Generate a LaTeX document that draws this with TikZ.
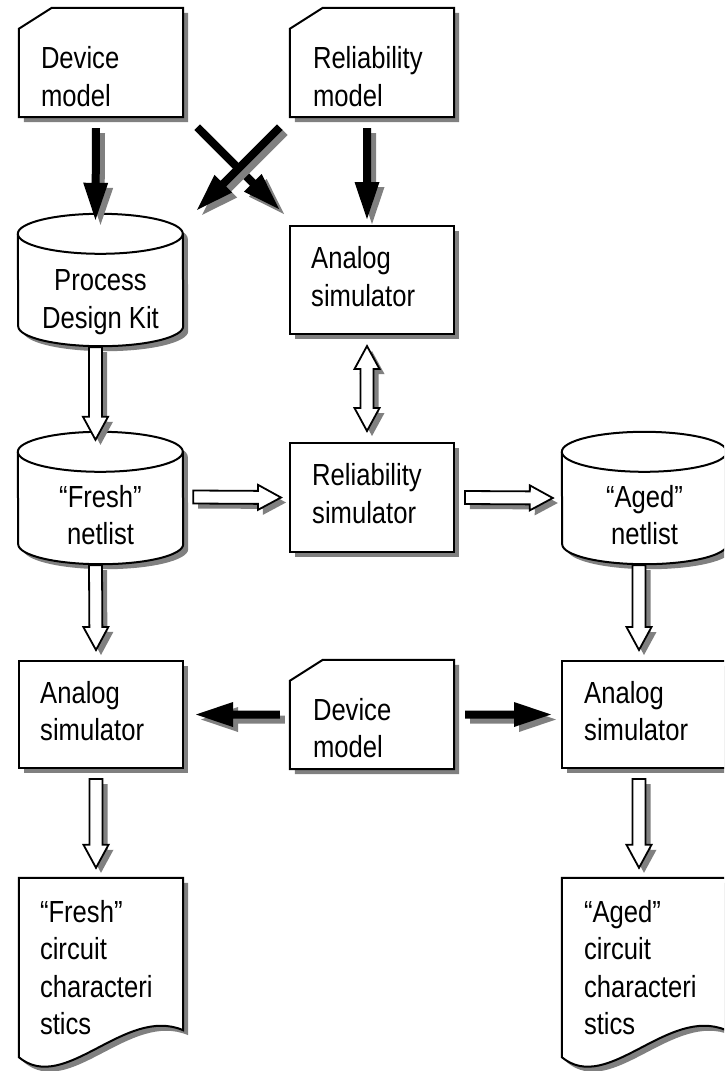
\documentclass[tikz,border=0pt]{standalone}
\usepackage{fontspec}
\setmainfont[FakeStretch=0.84]{Liberation Sans}
\usetikzlibrary{calc,shadows}
\definecolor{shadowgray}{RGB}{128,128,128}

\tikzset{
  shad/.style={drop shadow={shadow xshift=5pt,shadow yshift=-5pt,fill=shadowgray,opacity=1}},
  shapeline/.style={draw=black,line width=2pt,fill=white,shad},
  boxnode/.style={rectangle,minimum width=164pt,inner sep=0pt,shapeline},
  holder/.style={rectangle,inner sep=0pt,draw=none,fill=none},
  txt/.style={font=\fontsize{30.5}{37.5}\selectfont,inner sep=0pt,align=left},
  ctxt/.style={font=\fontsize{30.5}{37.5}\selectfont,inner sep=0pt,align=center},
  fatstyle/.style={fill=black,shad},
  hollowstyle/.style={fill=white,draw=black,line width=1.8pt,shad}
}

% card with cut top-left corner
\newcommand\cardshape[1]{%
  \path[shapeline] ($(#1.north west)+(33,0)$) -- (#1.north east) -- (#1.south east)
    -- (#1.south west) -- ($(#1.north west)+(0,21)$) -- cycle;}
% cylinder (database)
\newcommand\cylshape[1]{%
  \path[shapeline] ($(#1.north west)+(0,20)$)
    arc[start angle=180,end angle=0,x radius=82.5pt,y radius=20pt]
    -- ($(#1.south east)+(0,-20)$)
    arc[start angle=0,end angle=-180,x radius=82.5pt,y radius=20pt] -- cycle;
  \draw[line width=2pt] ($(#1.north west)+(0,20)$)
    arc[start angle=180,end angle=360,x radius=82.5pt,y radius=20pt];}
% document with wavy bottom
\newcommand\docshape[1]{%
  \path[shapeline] (#1.south west) -- (#1.north west) -- (#1.north east)
    -- ($(#1.south east)+(0,-27)$)
    .. controls ($(#1.south west)+(106,-52)$) and ($(#1.south west)+(46,38)$) .. (#1.south west)
    -- cycle;}
% solid black arrow: #1 start, #2 tip
\newcommand\fatarrow[2]{%
  \coordinate (fa-a) at (#1);
  \coordinate (fa-b) at (#2);
  \coordinate (fa-h) at ($(fa-b)!37pt!(fa-a)$);
  \fill[fatstyle] ($(fa-a)!4pt!90:(fa-b)$) -- ($(fa-h)!4pt!90:(fa-b)$)
    -- ($(fa-h)!12.5pt!90:(fa-b)$) -- (fa-b) -- ($(fa-h)!12.5pt!-90:(fa-b)$)
    -- ($(fa-h)!4pt!-90:(fa-b)$) -- ($(fa-a)!4pt!-90:(fa-b)$) -- cycle;}
% hollow arrow: #1 start, #2 tip
\newcommand\hollowarrow[2]{%
  \coordinate (ha-a) at (#1);
  \coordinate (ha-b) at (#2);
  \coordinate (ha-h) at ($(ha-b)!23pt!(ha-a)$);
  \path[hollowstyle] ($(ha-a)!6.5pt!90:(ha-b)$) -- ($(ha-h)!6.5pt!90:(ha-b)$)
    -- ($(ha-h)!12.5pt!90:(ha-b)$) -- (ha-b) -- ($(ha-h)!12.5pt!-90:(ha-b)$)
    -- ($(ha-h)!6.5pt!-90:(ha-b)$) -- ($(ha-a)!6.5pt!-90:(ha-b)$) -- cycle;}
% hollow double arrow: #1 tip, #2 tip
\newcommand\hollowdouble[2]{%
  \coordinate (hd-a) at (#1);
  \coordinate (hd-b) at (#2);
  \coordinate (hd-g) at ($(hd-a)!23pt!(hd-b)$);
  \coordinate (hd-h) at ($(hd-b)!23pt!(hd-a)$);
  \path[hollowstyle] (hd-a) -- ($(hd-g)!12.5pt!90:(hd-b)$) -- ($(hd-g)!6.5pt!90:(hd-b)$)
    -- ($(hd-h)!6.5pt!90:(hd-b)$) -- ($(hd-h)!12.5pt!90:(hd-b)$) -- (hd-b)
    -- ($(hd-h)!12.5pt!-90:(hd-b)$) -- ($(hd-h)!6.5pt!-90:(hd-b)$)
    -- ($(hd-g)!6.5pt!-90:(hd-b)$) -- ($(hd-g)!12.5pt!-90:(hd-b)$) -- cycle;}

\begin{document}
\begin{tikzpicture}[x=1pt,y=-1pt]
\useasboundingbox (0,0) rectangle (724,1071);
\clip (0,0) rectangle (724,1071);
\fill[white] (0,0) rectangle (724,1071);

% ---------- shape holders ----------
\node[holder,minimum width=164pt,minimum height=109pt] (dmA) at (101,62.5) {};
\node[holder,minimum width=164pt,minimum height=109pt] (rmA) at (372,62.5) {};
\node[holder,minimum width=165pt,minimum height=132pt] (pdk) at (100.5,280) {};
\node[holder,minimum width=165pt,minimum height=132pt] (fresh) at (100.5,498) {};
\node[holder,minimum width=165pt,minimum height=132pt] (aged) at (644.5,498) {};
\node[holder,minimum width=164pt,minimum height=109pt] (dmB) at (372,714.5) {};
\node[holder,minimum width=164pt,minimum height=179pt] (docL) at (101,967.5) {};
\node[holder,minimum width=164pt,minimum height=179pt] (docR) at (644,967.5) {};

% ---------- shapes ----------
\cardshape{dmA}
\cardshape{rmA}
\cylshape{pdk}
\cylshape{fresh}
\cylshape{aged}
\cardshape{dmB}
\docshape{docL}
\docshape{docR}
\node[boxnode,minimum height=108pt] (asA) at (372,280) {};
\node[boxnode,minimum height=109pt] (rsim) at (372,497.5) {};
\node[boxnode,minimum height=107pt] (asL) at (101,714.5) {};
\node[boxnode,minimum height=107pt] (asR) at (644,714.5) {};

% ---------- texts ----------
\node[txt,anchor=west] (dmA-t) at ($(dmA.west)+(22,14)$) {Device\\model};
\node[txt,anchor=west] (rmA-t) at ($(rmA.west)+(23,14)$) {Reliability\\model};
\node[ctxt] (pdk-t) at ($(pdk.center)+(0,22)$) {Process\\Design Kit};
\node[txt,anchor=west] (asA-t) at ($(asA.west)+(22,-3.5)$) {Analog\\simulator};
\node[ctxt] (fresh-t) at ($(fresh.center)+(0,17)$) {“Fresh”\\netlist};
\node[txt,anchor=west] (rsim-t) at ($(rsim.west)+(23,-4)$) {Reliability\\simulator};
\node[ctxt] (aged-t) at ($(aged.center)+(0,17)$) {“Aged”\\netlist};
\node[txt,anchor=west] (asL-t) at ($(asL.west)+(22,-3.5)$) {Analog\\simulator};
\node[txt,anchor=west] (dmB-t) at ($(dmB.west)+(23,13.5)$) {Device\\model};
\node[txt,anchor=west] (asR-t) at ($(asR.west)+(23,-3.5)$) {Analog\\simulator};
\node[txt,anchor=west] (docL-t) at ($(docL.west)+(21,0)$) {“Fresh”\\circuit\\characteri\\stics};
\node[txt,anchor=west] (docR-t) at ($(docR.west)+(22,0)$) {“Aged”\\circuit\\characteri\\stics};

% ---------- black arrows ----------
\fatarrow{$(dmA.south)+(-5,11)$}{$(pdk.north)+(-5,6)$}
\fatarrow{$(dmA.south east)+(14,10)$}{$(asA.north west)+(-10,-16)$}
\fatarrow{$(rmA.south west)+(-10,10)$}{$(pdk.north east)+(14,-4)$}
\fatarrow{$(rmA.south)+(-5,11)$}{$(asA.north)+(-5,-6)$}
\fatarrow{$(dmB.west)+(-10,0)$}{$(asL.east)+(12,0)$}
\fatarrow{$(dmB.east)+(11,0)$}{$(asR.west)+(-10,0)$}

% ---------- hollow arrows ----------
\hollowarrow{$(pdk.south)+(-5,1)$}{$(fresh.north)+(-5,8)$}
\hollowdouble{$(asA.south)+(-5,11)$}{$(rsim.north)+(-5,-11)$}
\hollowarrow{$(fresh.east)+(10,-1)$}{$(rsim.west)+(-8,0)$}
\hollowarrow{$(rsim.east)+(10,0)$}{$(aged.west)+(-9,0)$}
\hollowarrow{$(fresh.south)+(-5,1)$}{$(asL.north)+(-5,-10)$}
\hollowarrow{$(aged.south)+(-5.5,1)$}{$(asR.north)+(-5,-10)$}
\hollowarrow{$(asL.south)+(-5,10)$}{$(docL.north)+(-5,-10)$}
\hollowarrow{$(asR.south)+(-5,10)$}{$(docR.north)+(-5,-10)$}
\end{tikzpicture}
\end{document}
